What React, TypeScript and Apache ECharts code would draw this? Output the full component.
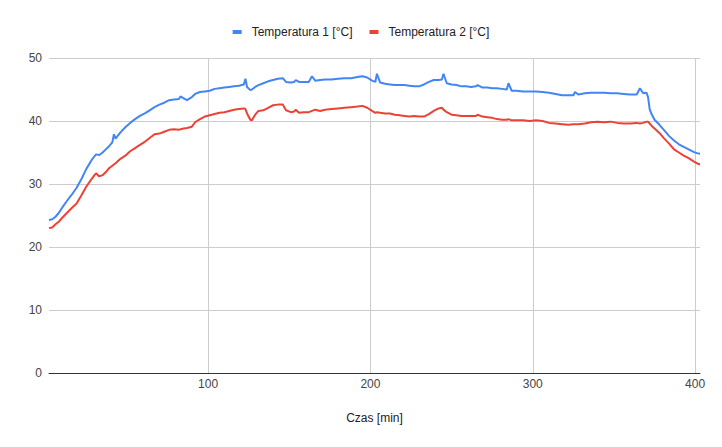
import { useEffect, useRef } from 'react'
import * as echarts from 'echarts'

const minutes = [
  2, 4, 6, 8, 10, 13, 16, 19, 22, 25, 28, 30, 31, 33, 35, 37, 39, 41, 42, 43, 46, 49, 52, 55, 58,
  61, 64, 67, 70, 73, 76, 79, 82, 83, 85, 87, 90, 92, 95, 98, 101, 104, 107, 110, 113, 116, 119,
  122, 123, 124, 126, 127, 129, 131, 134, 137, 140, 143, 146, 148, 151, 153, 154, 156, 159, 162,
  164, 166, 169, 172, 176, 180, 184, 188, 192, 195, 198, 201, 203, 204, 206, 209, 212, 215, 218,
  221, 224, 227, 230, 233, 236, 239, 242, 244, 245, 247, 250, 253, 256, 259, 262, 265, 266, 269,
  272, 275, 278, 281, 284, 285, 287, 290, 294, 298, 302, 306, 310, 314, 318, 322, 325, 326, 328,
  332, 336, 340, 344, 348, 352, 356, 360, 364, 366, 368, 370, 371, 372, 373, 375, 378, 381, 384,
  387, 390, 393, 396, 399, 401, 403,
]

const temp1 = [
  24.3, 24.4, 24.8, 25.4, 26.2, 27.3, 28.3, 29.4, 30.8, 32.4, 33.7, 34.4, 34.7, 34.6, 35.0, 35.5,
  36.0, 36.6, 37.9, 37.2, 38.2, 39.0, 39.7, 40.3, 40.8, 41.2, 41.7, 42.2, 42.6, 42.9, 43.3, 43.4,
  43.5, 43.9, 43.6, 43.3, 43.8, 44.3, 44.6, 44.7, 44.8, 45.1, 45.2, 45.3, 45.4, 45.5, 45.6, 45.8,
  46.7, 45.4, 44.9, 45.0, 45.4, 45.7, 46.0, 46.3, 46.5, 46.7, 46.8, 46.2, 46.1, 46.2, 46.5, 46.2,
  46.2, 46.2, 47.1, 46.4, 46.5, 46.6, 46.6, 46.7, 46.8, 46.8, 47.0, 47.1, 46.9, 46.4, 46.2, 47.5,
  46.1, 45.9, 45.8, 45.7, 45.7, 45.7, 45.6, 45.5, 45.5, 45.8, 46.2, 46.5, 46.5, 46.6, 47.5, 46.0,
  45.8, 45.7, 45.5, 45.5, 45.4, 45.5, 45.7, 45.3, 45.3, 45.2, 45.2, 45.1, 45.0, 46.0, 44.8, 44.8,
  44.7, 44.7, 44.7, 44.6, 44.5, 44.3, 44.1, 44.1, 44.1, 44.6, 44.2, 44.4, 44.5, 44.5, 44.5, 44.4,
  44.4, 44.3, 44.2, 44.2, 45.2, 44.4, 44.5, 43.8, 41.9, 41.2, 40.2, 39.4, 38.5, 37.6, 36.9, 36.3,
  35.9, 35.5, 35.1, 34.9, 34.8,
]

const temp2 = [
  23.0, 23.1, 23.6, 24.0, 24.6, 25.4, 26.2, 26.9, 28.2, 29.6, 30.7, 31.4, 31.7, 31.2, 31.4, 31.9,
  32.5, 32.9, 33.1, 33.3, 34.0, 34.5, 35.2, 35.7, 36.2, 36.7, 37.3, 37.9, 38.0, 38.3, 38.6, 38.7,
  38.6, 38.7, 38.8, 38.9, 39.1, 39.8, 40.3, 40.7, 40.9, 41.1, 41.3, 41.4, 41.6, 41.8, 41.9, 42.0,
  41.9, 41.2, 40.2, 40.1, 41.0, 41.6, 41.7, 42.1, 42.5, 42.6, 42.6, 41.7, 41.4, 41.5, 41.8, 41.3,
  41.4, 41.4, 41.6, 41.8, 41.6, 41.8, 41.9, 42.0, 42.1, 42.2, 42.3, 42.4, 42.1, 41.6, 41.3, 41.4,
  41.3, 41.2, 41.2, 41.0, 40.9, 40.8, 40.7, 40.8, 40.7, 40.7, 41.1, 41.6, 42.0, 42.1, 41.8, 41.4,
  41.0, 40.9, 40.8, 40.8, 40.8, 40.8, 41.0, 40.7, 40.6, 40.5, 40.3, 40.2, 40.2, 40.3, 40.1, 40.1,
  40.1, 40.0, 40.1, 40.0, 39.7, 39.6, 39.5, 39.4, 39.5, 39.5, 39.5, 39.6, 39.8, 39.9, 39.8, 39.9,
  39.7, 39.6, 39.6, 39.7, 39.6, 39.7, 39.9, 39.9, 39.6, 39.3, 38.8, 38.1, 37.2, 36.4, 35.5, 35.0,
  34.5, 34.1, 33.6, 33.3, 33.1,
]

const xTicks = [100, 200, 300, 400]

const FONT = 'Liberation Sans, Arial, sans-serif'

export default function App() {
  const chartRef = useRef<HTMLDivElement>(null)

  useEffect(() => {
    if (!chartRef.current) return
    const chart = echarts.init(chartRef.current, null, { renderer: 'svg' })

    const option: echarts.EChartsOption = {
      animation: false,
      backgroundColor: '#ffffff',
      legend: {
        top: 21,
        left: 'center',
        icon: 'rect',
        itemWidth: 9,
        itemHeight: 4,
        itemGap: 17,
        textStyle: {
          color: '#222222',
          fontSize: 12,
          fontFamily: FONT,
          padding: [0, 0, 0, 5],
        },
      },
      grid: {
        left: 49,
        right: 22,
        top: 58,
        bottom: 74,
      },
      xAxis: {
        type: 'value',
        min: 2,
        max: 403,
        name: 'Czas [min]',
        nameLocation: 'middle',
        nameGap: 39,
        nameTextStyle: { color: '#222222', fontSize: 12, fontFamily: FONT },
        axisLine: { show: true, lineStyle: { color: '#333333', width: 1 } },
        axisTick: { show: false, customValues: xTicks },
        axisLabel: {
          customValues: xTicks,
          color: '#444444',
          fontSize: 12,
          fontFamily: FONT,
          margin: 5,
        },
        splitLine: { show: true, lineStyle: { color: '#cccccc', width: 1 } },
      },
      yAxis: {
        type: 'value',
        min: 0,
        max: 50,
        interval: 10,
        axisLine: { show: false },
        axisTick: { show: false },
        axisLabel: { color: '#444444', fontSize: 12, fontFamily: FONT, margin: 7 },
        splitLine: { lineStyle: { color: '#cccccc', width: 1 } },
      },
      series: [
        {
          name: 'Temperatura 1 [°C]',
          type: 'line',
          showSymbol: false,
          color: '#4285F4',
          lineStyle: { width: 2 },
          data: minutes.map((m, i) => [m, temp1[i]]),
        },
        {
          name: 'Temperatura 2 [°C]',
          type: 'line',
          showSymbol: false,
          color: '#EA4335',
          lineStyle: { width: 2 },
          data: minutes.map((m, i) => [m, temp2[i]]),
        },
      ],
    }

    chart.setOption(option)
    return () => chart.dispose()
  }, [])

  return (
    <div
      ref={chartRef}
      style={{ position: 'absolute', left: 0, top: 0, width: '722px', height: '447px' }}
    />
  )
}
